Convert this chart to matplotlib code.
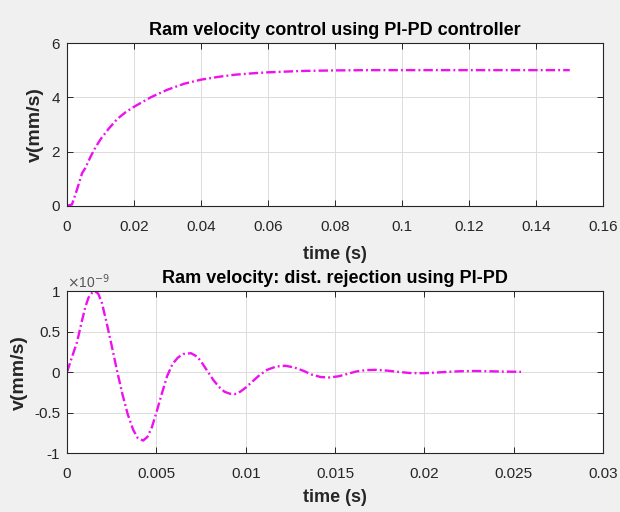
import matplotlib
matplotlib.use("Agg")
import matplotlib.pyplot as plt
from matplotlib.ticker import FuncFormatter

plt.rcParams['font.family'] = ['Liberation Sans', 'DejaVu Sans']
plt.rcParams['axes.unicode_minus'] = False

# step response: time (s) and velocity (mm/s)
t_step = [0, 0.0015, 0.003, 0.0045, 0.0055, 0.007, 0.0085, 0.01, 0.0125, 0.015,
          0.0175, 0.02, 0.025, 0.03, 0.035, 0.04, 0.045, 0.05, 0.055, 0.06,
          0.07, 0.08, 0.09, 0.1, 0.12, 0.15]
v_step = [0, 0.05, 0.6, 1.2, 1.4, 1.8, 2.15, 2.45, 2.85, 3.2,
          3.45, 3.65, 4.0, 4.28, 4.5, 4.65, 4.75, 4.83, 4.88, 4.92,
          4.97, 4.99, 5.0, 5.0, 5.0, 5.0]

# disturbance rejection: time (ms) and velocity (x1e-9 mm/s)
t_dist_ms = [0, 0.3, 0.56, 0.8, 1.02, 1.2, 1.4, 1.57, 1.75, 1.95,
             2.2, 2.5, 2.8, 3.1, 3.4, 3.7, 3.95, 4.26, 4.5, 4.75,
             5.0, 5.3, 5.6, 5.9, 6.2, 6.5, 6.94, 7.3, 7.6, 7.9,
             8.2, 8.5, 8.8, 9.1, 9.4, 9.7, 10.0, 10.4, 10.8, 11.2,
             11.7, 12.2, 12.7, 13.2, 13.7, 14.2, 14.7, 15.2, 15.7, 16.2,
             16.7, 17.3, 17.9, 18.5, 19.2, 19.9, 20.6, 21.3, 22.0, 22.8,
             23.6, 24.4, 25.4]
v_dist = [0, 0.2, 0.37, 0.6, 0.8, 0.92, 0.98, 1.0, 0.97, 0.86,
          0.63, 0.33, 0.02, -0.27, -0.52, -0.71, -0.81, -0.845, -0.8, -0.68,
          -0.5, -0.27, -0.05, 0.1, 0.18, 0.225, 0.235, 0.19, 0.1, 0.0,
          -0.1, -0.18, -0.24, -0.265, -0.27, -0.24, -0.19, -0.11, -0.03, 0.03,
          0.07, 0.08, 0.06, 0.02, -0.03, -0.06, -0.065, -0.05, -0.02, 0.01,
          0.025, 0.03, 0.02, 0.005, -0.01, -0.012, -0.005, 0.005, 0.012, 0.015,
          0.012, 0.008, 0.005]
t_dist = [t / 1000 for t in t_dist_ms]

top_xticks = [0, 0.02, 0.04, 0.06, 0.08, 0.1, 0.12, 0.14, 0.16]
top_yticks = [0, 2, 4, 6]
bot_xticks = [0, 0.005, 0.01, 0.015, 0.02, 0.025, 0.03]
bot_yticks = [-1, -0.5, 0, 0.5, 1]

line_col = '#ee10ee'
txt_col = '#262626'
fmt = FuncFormatter(lambda v, p: '%g' % round(v, 6))

fig = plt.figure(figsize=(6.2, 5.12), dpi=100, facecolor='#f0f0f0')
ax1 = fig.add_axes([0.108, 0.598, 0.865, 0.318])
ax2 = fig.add_axes([0.108, 0.115, 0.865, 0.316])


def style(ax, xt, yt):
    ax.set_xticks(xt)
    ax.set_yticks(yt)
    ax.set_xlim(xt[0], xt[-1])
    ax.set_ylim(yt[0], yt[-1])
    ax.xaxis.set_major_formatter(fmt)
    ax.yaxis.set_major_formatter(fmt)
    ax.grid(True, color='#dcdcdc', lw=0.7)
    ax.set_axisbelow(True)
    ax.tick_params(direction='in', length=4, width=0.7, top=True, right=True,
                   labelsize=11, colors=txt_col)
    ax.tick_params(axis='x', pad=10)
    ax.tick_params(axis='y', pad=5)
    for s in ax.spines.values():
        s.set_color(txt_col)
        s.set_linewidth(0.8)


ax1.plot(t_step, v_step, color=line_col, lw=1.7, dashes=(4, 1.3, 0.8, 1.3))
style(ax1, top_xticks, top_yticks)
ax1.set_title('Ram velocity control using PI-PD controller', fontsize=13,
              fontweight='bold', color='black', pad=6)
ax1.set_xlabel('time (s)', fontsize=13, fontweight='bold', color=txt_col, labelpad=9)
ax1.set_ylabel('v(mm/s)', fontsize=14, fontweight='bold', color=txt_col, va='center')
ax1.yaxis.set_label_coords(-0.0596, 0.5)

ax2.plot(t_dist, v_dist, color=line_col, lw=1.7, dashes=(4, 1.3, 0.8, 1.3))
style(ax2, bot_xticks, bot_yticks)
ax2.set_title('Ram velocity: dist. rejection using PI-PD', fontsize=13,
              fontweight='bold', color='black', pad=6)
ax2.set_xlabel('time (s)', fontsize=13, fontweight='bold', color=txt_col, labelpad=6)
ax2.set_ylabel('v(mm/s)', fontsize=14, fontweight='bold', color=txt_col, va='center')
ax2.yaxis.set_label_coords(-0.0895, 0.5)
ax2.text(0.0, 1.005, r'$\times$10$^{-9}$', transform=ax2.transAxes, fontsize=10,
         color='#555555', ha='left', va='bottom')

fig.savefig('out.png', dpi=100, facecolor=fig.get_facecolor())
